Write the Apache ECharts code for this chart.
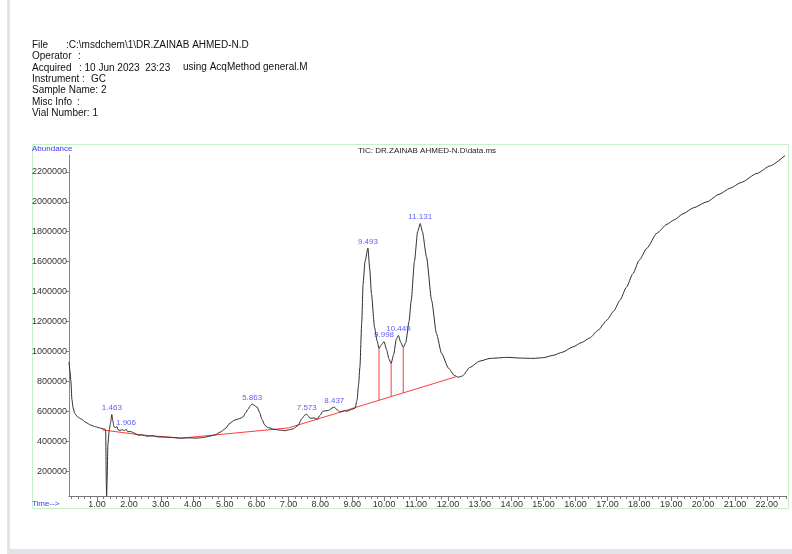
<!DOCTYPE html>
<html>
<head>
<meta charset="utf-8">
<script src="https://cdn.jsdelivr.net/npm/echarts@6/dist/echarts.min.js"></script>
<style>
html,body{margin:0;padding:0;background:#fff;}
#c{width:792px;height:554px;}
</style>
</head>
<body>
<div id="c"></div>
<script>
// ---- data (time in min, abundance) ----
const times = [0.12,0.15,0.18,0.21,0.25,0.30,0.40,0.50,0.65,0.80,0.95,1.10,1.20,1.25,1.27,1.29,1.30,1.31,1.34,1.38,1.42,1.463,1.49,1.53,1.58,1.62,1.66,1.72,1.80,1.86,1.906,1.96,2.05,2.15,2.29,2.40,2.57,2.75,2.90,3.07,3.30,3.60,3.85,4.13,4.35,4.54,4.70,4.86,5.00,5.17,5.30,5.42,5.52,5.58,5.66,5.73,5.80,5.863,5.92,6.02,6.10,6.17,6.25,6.33,6.52,6.74,6.90,7.00,7.15,7.30,7.43,7.52,7.573,7.62,7.68,7.80,7.90,8.00,8.08,8.25,8.40,8.437,8.52,8.62,8.75,8.84,8.95,9.09,9.15,9.20,9.24,9.30,9.34,9.40,9.493,9.55,9.60,9.70,9.78,9.84,9.90,9.998,10.08,10.15,10.22,10.30,10.38,10.449,10.52,10.60,10.68,10.78,10.85,10.95,11.05,11.131,11.20,11.33,11.49,11.64,11.80,12.02,12.20,12.32,12.45,12.69,13.00,13.32,13.85,14.30,14.67,15.00,15.29,15.60,15.92,16.20,16.45,16.70,16.99,17.20,17.39,17.60,17.80,18.00,18.24,18.55,18.87,19.10,19.37,19.70,20.12,20.50,20.84,21.20,21.69,22.10,22.57];
const abundance = [930000,870000,800000,680000,620000,585000,560000,548000,525000,507000,496000,487000,482000,480000,470000,120000,35000,110000,380000,470000,520000,578000,540000,495000,490000,498000,475000,472000,476000,470000,480000,462000,465000,455000,440000,442000,433000,435000,428000,427000,425000,420000,422000,420000,425000,433000,442000,460000,480000,520000,540000,547000,555000,562000,590000,613000,635000,648000,640000,627000,590000,545000,510000,493000,480000,473000,470000,475000,482000,505000,553000,575000,580000,568000,553000,555000,547000,575000,600000,605000,625000,628000,610000,595000,603000,600000,610000,620000,673000,780000,893000,1200000,1450000,1600000,1690000,1550000,1390000,1160000,1070000,1020000,1040000,1065000,1010000,950000,920000,980000,1080000,1107000,1060000,1027000,1060000,1200000,1340000,1600000,1800000,1855000,1800000,1630000,1340000,1120000,987000,887000,840000,827000,835000,893000,935000,953000,960000,955000,953000,958000,973000,995000,1030000,1060000,1090000,1140000,1210000,1270000,1340000,1430000,1520000,1610000,1690000,1790000,1850000,1880000,1920000,1960000,2000000,2050000,2090000,2130000,2190000,2240000,2310000];

const peakLabels = ["1.463","1.906","5.863","7.573","8.437","9.493","9.998","10.449","11.131"];
const peakTimes  = [1.463,1.906,5.863,7.573,8.437,9.493,9.998,10.449,11.131];
const peakVals   = [578000,480000,648000,580000,628000,1690000,1065000,1107000,1855000];

const baselineTimes = [1.16,2.35,3.65,7.00,12.25];
const baselineVals  = [475000,442000,420000,488000,830000];

const dropTimes   = [9.84,10.22,10.60];
const dropTops    = [1020000,920000,1027000];
const dropBottoms = [674000,699000,723000];

const xTickLabels = [1,2,3,4,5,6,7,8,9,10,11,12,13,14,15,16,17,18,19,20,21,22];
const yTickLabels = [200000,400000,600000,800000,1000000,1200000,1400000,1600000,1800000,2000000,2200000];

const headerRows = [
  ["File", ":C:\\msdchem\\1\\DR.ZAINAB AHMED-N.D"],
  ["Operator", ":"],
  ["Acquired", ": 10 Jun 2023  23:23"],
  ["Instrument :", "GC"],
  ["Sample Name: 2", ""],
  ["Misc Info", ":"],
  ["Vial Number: 1", ""]
];
const acqExtra = "using AcqMethod general.M";
const ticTitle = "TIC: DR.ZAINAB AHMED-N.D\\data.ms";

// ---- chart ----
const FONT = '"Liberation Sans", Arial, sans-serif';
const BLUE = '#3535f5';
const chart = echarts.init(document.getElementById('c'), null, {renderer:'canvas'});

const minorTicks = [];
for (let i = 1; i <= 113; i++) minorTicks.push(+(i*0.2).toFixed(2));

const valueColX = [66, 78, 79, 91, 0, 77, 0];
const graphics = [
  {type:'rect', shape:{x:7,y:0,width:3,height:549}, style:{fill:'#e3e3e8'}, silent:true},
  {type:'rect', shape:{x:7,y:549,width:785,height:5}, style:{fill:'#e3e3e8'}, silent:true},
  {type:'rect', shape:{x:32.5,y:144.5,width:756,height:364}, style:{fill:null, stroke:'#c6f2c6', lineWidth:1}, silent:true},
  {type:'text', left:32, top:145, style:{text:'Abundance', font:'8px '+FONT, fill:BLUE}},
  {type:'text', left:32, top:500, style:{text:'Time-->', font:'8px '+FONT, fill:BLUE}},
  {type:'text', x:427, y:151, style:{text:ticTitle, font:'8px '+FONT, fill:'#222', align:'center', verticalAlign:'middle'}},
  {type:'text', x:183, y:67, style:{text:acqExtra, font:'10px '+FONT, fill:'#111', verticalAlign:'middle'}}
];
headerRows.forEach((r, i) => {
  const y = 45 + i*11.4;
  graphics.push({type:'text', x:32, y:y, style:{text:r[0], font:'10px '+FONT, fill:'#111', verticalAlign:'middle'}});
  if (r[1]) graphics.push({type:'text', x:valueColX[i], y:y, style:{text:r[1], font:'10px '+FONT, fill:'#111', verticalAlign:'middle'}});
});

const series = [
  {
    type:'line', name:'TIC', xAxisIndex:0, yAxisIndex:0,
    data: times.map((t,i)=>[t, abundance[i]]),
    showSymbol:false, smooth:0.2, smoothMonotone:'x',
    lineStyle:{color:'#2e2e2e', width:1}, z:3
  },
  {
    type:'line', name:'baseline',
    data: baselineTimes.map((t,i)=>[t, baselineVals[i]]),
    showSymbol:false, lineStyle:{color:'#ff3b3b', width:1}, z:2
  },
  {
    type:'scatter', name:'peaks',
    data: peakTimes.map((t,i)=>({name:peakLabels[i], value:[t, peakVals[i]]})),
    symbolSize:1, itemStyle:{color:'rgba(0,0,0,0)'},
    label:{show:true, position:'top', distance:2, formatter:p=>p.name, color:BLUE, fontSize:8, fontFamily:FONT}, z:5
  }
];
dropTimes.forEach((t,i)=>{
  series.push({type:'line', data:[[t, dropTops[i]],[t, dropBottoms[i]]], showSymbol:false, lineStyle:{color:'#ff3b3b', width:1}, z:2});
});

chart.setOption({
  animation:false,
  backgroundColor:'#ffffff',
  grid:{left:69, right:6, top:155, bottom:58, containLabel:false},
  xAxis:[
    {
      type:'value', min:0.12, max:22.6, position:'bottom',
      axisLine:{show:true, lineStyle:{color:'#777', width:1}},
      axisTick:{show:true, length:5, customValues:xTickLabels, lineStyle:{color:'#777'}},
      axisLabel:{show:true, customValues:xTickLabels, formatter:v=>v.toFixed(2), color:'#333', fontSize:9, fontFamily:FONT, margin:4},
      splitLine:{show:false}
    },
    {
      type:'value', min:0.12, max:22.6, position:'bottom', offset:0,
      axisLine:{show:false},
      axisTick:{show:true, length:3, customValues:minorTicks, lineStyle:{color:'#777'}},
      axisLabel:{show:false},
      splitLine:{show:false}
    }
  ],
  yAxis:{
    type:'value', min:33000, max:2313000,
    axisLine:{show:true, lineStyle:{color:'#888', width:1}},
    axisTick:{show:true, length:3, customValues:yTickLabels, lineStyle:{color:'#888'}},
    axisLabel:{show:true, customValues:yTickLabels, color:'#333', fontSize:9, fontFamily:FONT, margin:2, formatter:v=>String(v)},
    splitLine:{show:false}
  },
  graphic:graphics,
  series:series
});
</script>
</body>
</html>
